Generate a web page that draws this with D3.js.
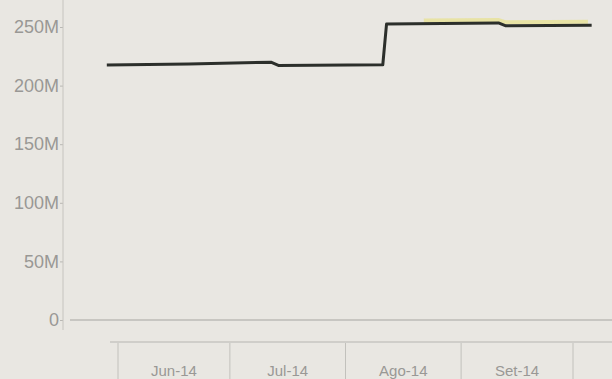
<!DOCTYPE html>
<html>
<head>
<meta charset="utf-8">
<script src="https://cdn.jsdelivr.net/npm/d3@7/dist/d3.min.js"></script>
<style>
  html, body { margin: 0; padding: 0; background: #e9e7e2; }
  svg { display: block; }
  text { font-family: "Liberation Sans", Arial, sans-serif; fill: #999895; }
</style>
</head>
<body>
<svg id="chart" width="612" height="379"></svg>
<script>
// Series values (dates and amounts in units)
const mainDates = ["2014-05-29", "2014-06-20", "2014-07-12", "2014-07-14", "2014-08-11", "2014-08-12", "2014-09-11", "2014-09-13", "2014-10-06"];
const mainValues = [217.5e6, 218.5e6, 220e6, 217.2e6, 217.8e6, 252.5e6, 253.5e6, 251e6, 251.5e6];

const highlightDates = ["2014-08-22", "2014-09-11", "2014-09-13", "2014-10-05"];
const highlightValues = [255.5e6, 256e6, 254e6, 254.5e6];

const yTicks = [0, 50e6, 100e6, 150e6, 200e6, 250e6];
const yTickLabels = ["0", "50M", "100M", "150M", "200M", "250M"];

const monthStarts = ["2014-06-01", "2014-07-01", "2014-08-01", "2014-09-01", "2014-10-01"];
const monthLabels = ["Jun-14", "Jul-14", "Ago-14", "Set-14"];

const parse = d3.utcParse("%Y-%m-%d");
const svg = d3.select("#chart");

const x = d3.scaleUtc()
  .domain([parse("2014-06-01"), parse("2014-10-01")])
  .range([118, 573]);

const y = d3.scaleLinear()
  .domain([0, 250e6])
  .range([320, 27]);

// Vertical value axis
const yAxis = d3.axisLeft(y)
  .tickValues(yTicks)
  .tickFormat((d, i) => yTickLabels[i])
  .tickSize(3)
  .tickPadding(1);

const gy = svg.append("g")
  .attr("transform", "translate(63,0)")
  .call(yAxis);
gy.select(".domain").remove();
gy.selectAll(".tick line").attr("stroke", "#b8b7b3");
gy.selectAll(".tick text")
  .style("font-size", "18px")
  .attr("fill", "#999895");
gy.append("line")
  .attr("x1", 0).attr("x2", 0)
  .attr("y1", 0).attr("y2", 330)
  .attr("stroke", "#c6c4bf")
  .attr("stroke-width", 1);

// Zero baseline
svg.append("line")
  .attr("x1", 70).attr("x2", 612)
  .attr("y1", y(0)).attr("y2", y(0))
  .attr("stroke", "#a6a5a1")
  .attr("stroke-width", 1);

// Month band row
svg.append("line")
  .attr("x1", 110).attr("x2", 612)
  .attr("y1", 342).attr("y2", 342)
  .attr("stroke", "#b6b5b1")
  .attr("stroke-width", 1);

svg.append("g")
  .selectAll("line")
  .data(monthStarts)
  .join("line")
  .attr("x1", d => x(parse(d))).attr("x2", d => x(parse(d)))
  .attr("y1", 343).attr("y2", 379)
  .attr("stroke", "#c2c1bc")
  .attr("stroke-width", 1);

svg.append("g")
  .selectAll("text")
  .data(monthLabels)
  .join("text")
  .attr("x", (d, i) => (x(parse(monthStarts[i])) + x(parse(monthStarts[i + 1]))) / 2)
  .attr("y", 376)
  .attr("text-anchor", "middle")
  .style("font-size", "15px")
  .text(d => d);

// Lines
const line = d3.line()
  .x(d => x(d.date))
  .y(d => y(d.value));

const highlight = highlightDates.map((d, i) => ({ date: parse(d), value: highlightValues[i] }));
const main = mainDates.map((d, i) => ({ date: parse(d), value: mainValues[i] }));

svg.append("path")
  .datum(highlight)
  .attr("d", line)
  .attr("fill", "none")
  .attr("stroke", "#e8e29a")
  .attr("stroke-width", 4)
  .attr("stroke-opacity", 0.85);

svg.append("path")
  .datum(main)
  .attr("d", line)
  .attr("fill", "none")
  .attr("stroke", "#2c2f2b")
  .attr("stroke-width", 3)
  .attr("stroke-linejoin", "round");
</script>
</body>
</html>
